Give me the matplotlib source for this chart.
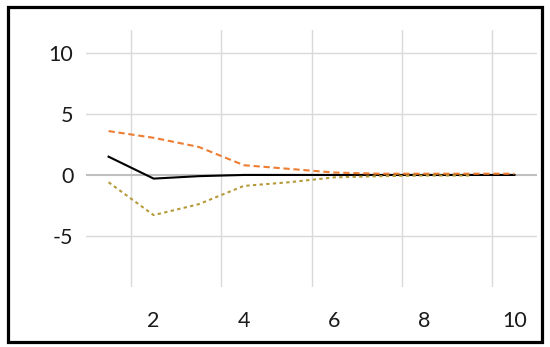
import matplotlib.pyplot as plt
from matplotlib.patches import Rectangle

# impulse response style chart, periods 1..10
periods = [1, 2, 3, 4, 5, 6, 7, 8, 9, 10]
response = [1.5, -0.3, -0.1, 0.0, 0.0, 0.0, 0.0, 0.0, 0.0, 0.0]
upper = [3.6, 3.05, 2.3, 0.8, 0.5, 0.2, 0.1, 0.1, 0.1, 0.1]
lower_periods = [1, 2, 3, 4, 5, 6, 7, 8, 9]
lower = [-0.6, -3.3, -2.4, -0.9, -0.6, -0.2, -0.1, -0.05, -0.05]
x_ticks = [2, 4, 6, 8, 10]
y_ticks = [-5, 0, 5, 10]

plt.rcParams['font.family'] = ['Lato', 'DejaVu Sans']

fig = plt.figure(figsize=(5.5, 3.47), dpi=100)
ax = fig.add_axes([86 / 550, 60 / 347, 451 / 550, 257 / 347])

# outer frame
fig.patches.append(Rectangle((8 / 550, 5 / 347), 534 / 550, 335 / 347,
                             transform=fig.transFigure, fill=False,
                             edgecolor='black', linewidth=2.3))

ax.set_xlim(0.5, 10.5)
ax.set_ylim(-9.2, 11.9)

for gx in [1.5, 3.5, 5.5, 7.5, 9.5]:
    ax.axvline(gx, color='#d9d9d9', linewidth=1, zorder=0)
for gy in [10, 5, -5]:
    ax.axhline(gy, color='#d9d9d9', linewidth=1, zorder=0)
ax.axhline(0, color='#bfbfbf', linewidth=1.5, zorder=1)

ax.plot(periods, response, color='black', linewidth=1.5, zorder=3)
ax.plot(periods, upper, color='#ed7d31', linewidth=1.5,
        dashes=(3, 1.8), zorder=4)
ax.plot(lower_periods, lower, color='#b59a3a', linewidth=1.5,
        dashes=(1.6, 1.6), zorder=4)

ax.set_xticks(x_ticks)
ax.set_yticks(y_ticks)
ax.set_yticklabels([str(v) for v in y_ticks])
ax.tick_params(length=0, labelsize=15.5, colors='#1a1a1a')
ax.tick_params(axis='y', pad=9)
ax.tick_params(axis='x', pad=17)
for s in ax.spines.values():
    s.set_visible(False)

fig.savefig('out.png', dpi=100)
